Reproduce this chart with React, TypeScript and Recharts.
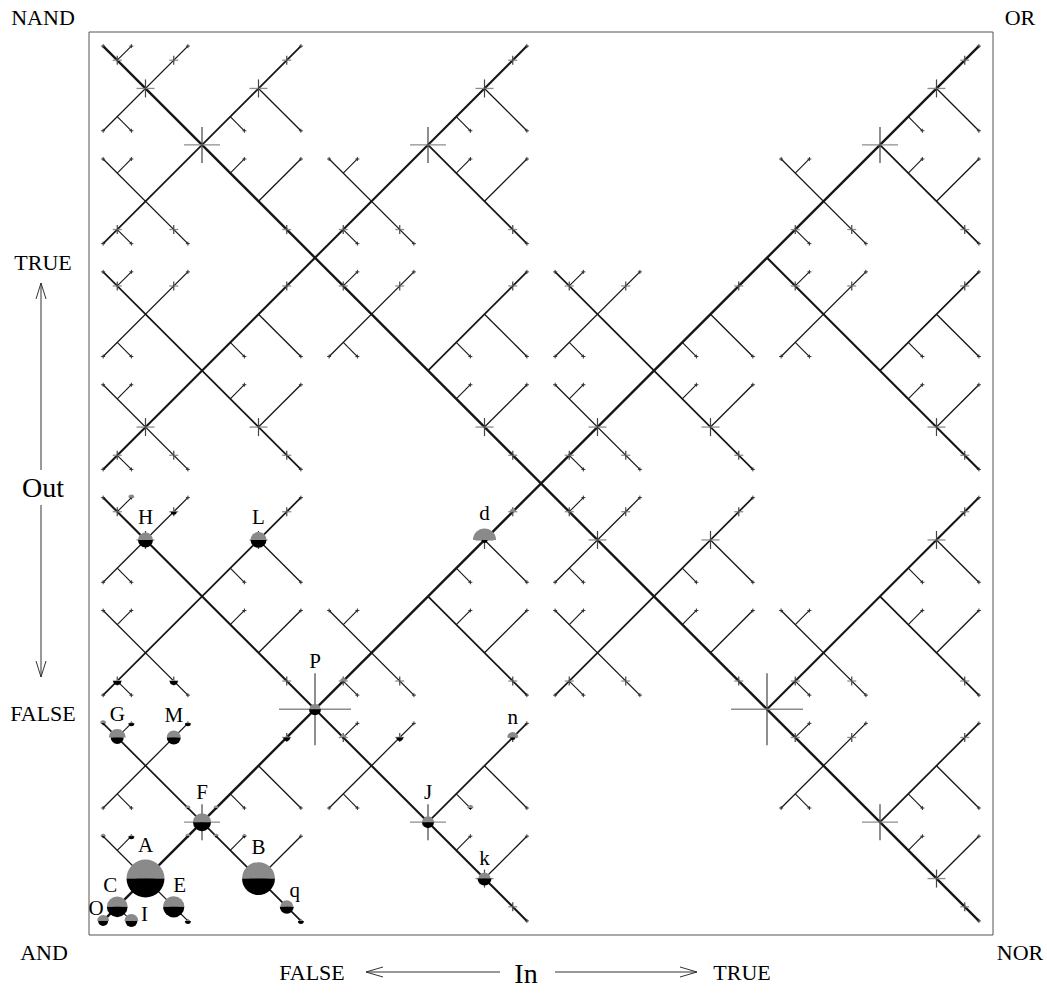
import React from 'react'
import { ComposedChart, XAxis, YAxis, ReferenceLine, ReferenceArea, Scatter } from 'recharts'

type Seg = [number, number, number, number]

// lattice: In runs 0..64 left to right, Out runs 0..64 top to bottom (row index)
const wholeDiagonals: Seg[] = [
  [1, 1, 63, 63],
  [1, 63, 63, 1],
]

const quadrantLines: Seg[] = [
  [1, 31, 31, 1],
  [48, 16, 63, 31],
  [1, 33, 31, 63],
  [48, 48, 63, 33],
]

const blockLines: Seg[] = [
  [1, 15, 15, 1], [24, 8, 31, 15], [56, 8, 63, 15],
  [1, 17, 15, 31], [24, 24, 31, 17], [33, 17, 47, 31], [56, 24, 63, 17],
  [1, 47, 15, 33], [24, 40, 31, 47], [33, 47, 47, 33], [56, 40, 63, 47],
  [1, 49, 15, 63], [24, 56, 31, 49], [56, 56, 63, 49],
]

const cellLines: Seg[] = [
  // anti-diagonals of the upper-left cells
  [1, 7, 7, 1], [1, 23, 7, 17], [17, 23, 23, 17], [33, 23, 39, 17], [49, 23, 55, 17],
  [1, 39, 7, 33], [33, 39, 39, 33], [1, 55, 7, 49], [17, 55, 23, 49], [49, 55, 55, 49],
  // half diagonals of the upper-right cells
  [12, 4, 15, 7], [28, 4, 31, 7], [60, 4, 63, 7],
  [12, 20, 15, 23], [28, 20, 31, 23], [44, 20, 47, 23], [60, 20, 63, 23],
  [12, 36, 15, 39], [28, 36, 31, 39], [44, 36, 47, 39], [60, 36, 63, 39],
  [12, 52, 15, 55], [28, 52, 31, 55], [60, 52, 63, 55],
  // diagonals of the lower-left cells
  [1, 9, 7, 15], [17, 9, 23, 15], [49, 9, 55, 15], [1, 25, 7, 31], [33, 25, 39, 31],
  [1, 41, 7, 47], [17, 41, 23, 47], [33, 41, 39, 47], [49, 41, 55, 47], [1, 57, 7, 63],
  // half anti-diagonals of the lower-right cells
  [12, 12, 15, 9], [28, 12, 31, 9], [60, 12, 63, 9],
  [12, 28, 15, 25], [28, 28, 31, 25], [44, 28, 47, 25], [60, 28, 63, 25],
  [12, 44, 15, 41], [28, 44, 31, 41], [44, 44, 47, 41], [60, 44, 63, 41],
  [12, 60, 15, 57], [28, 60, 31, 57], [60, 60, 63, 57],
]

const twigsUp: Seg[] = [
  [2, 2, 3, 1], [2, 18, 3, 17], [18, 18, 19, 17], [34, 18, 35, 17], [50, 18, 51, 17],
  [2, 34, 3, 33], [34, 34, 35, 33], [2, 50, 3, 49], [18, 50, 19, 49], [50, 50, 51, 49],
  [2, 10, 3, 9], [18, 10, 19, 9], [50, 10, 51, 9], [2, 26, 3, 25], [34, 26, 35, 25],
  [2, 42, 3, 41], [18, 42, 19, 41], [34, 42, 35, 41], [50, 42, 51, 41], [2, 58, 3, 57],
  [10, 10, 11, 9], [26, 10, 27, 9], [58, 10, 59, 9], [10, 26, 11, 25], [26, 26, 27, 25],
  [42, 26, 43, 25], [58, 26, 59, 25], [10, 42, 11, 41], [26, 42, 27, 41], [42, 42, 43, 41],
  [58, 42, 59, 41], [10, 58, 11, 57], [26, 58, 27, 57], [58, 58, 59, 57],
]

const twigsDown: Seg[] = [
  [2, 6, 3, 7], [2, 22, 3, 23], [18, 22, 19, 23], [34, 22, 35, 23], [50, 22, 51, 23],
  [2, 38, 3, 39], [34, 38, 35, 39], [2, 54, 3, 55], [18, 54, 19, 55], [50, 54, 51, 55],
  [10, 6, 11, 7], [26, 6, 27, 7], [58, 6, 59, 7], [10, 22, 11, 23], [26, 22, 27, 23],
  [42, 22, 43, 23], [58, 22, 59, 23], [10, 38, 11, 39], [26, 38, 27, 39], [42, 38, 43, 39],
  [58, 38, 59, 39], [10, 54, 11, 55], [26, 54, 27, 55], [58, 54, 59, 55],
  [2, 14, 3, 15], [18, 14, 19, 15], [50, 14, 51, 15], [2, 30, 3, 31], [34, 30, 35, 31],
  [2, 46, 3, 47], [18, 46, 19, 47], [34, 46, 35, 47], [50, 46, 51, 47], [2, 62, 3, 63],
]

// [in, out, weight] for the gray crosses
const crosses: [number, number, number][] = [
  [2, 2, 1], [6, 2, 1], [14, 2, 1], [30, 2, 1], [62, 2, 1],
  [4, 4, 2], [12, 4, 2], [28, 4, 2], [60, 4, 2],
  [8, 8, 4], [24, 8, 4], [56, 8, 4],
  [2, 14, 1], [6, 14, 1], [14, 14, 1], [18, 14, 1], [22, 14, 1], [30, 14, 1], [50, 14, 1], [54, 14, 1], [62, 14, 1],
  [2, 18, 1], [6, 18, 1], [14, 18, 1], [18, 18, 1], [22, 18, 1], [30, 18, 1], [34, 18, 1], [38, 18, 1], [46, 18, 1], [50, 18, 1], [54, 18, 1], [62, 18, 1],
  [4, 28, 2], [12, 28, 2], [28, 28, 2], [36, 28, 2], [44, 28, 2], [60, 28, 2],
  [2, 30, 1], [6, 30, 1], [14, 30, 1], [30, 30, 1], [34, 30, 1], [38, 30, 1], [46, 30, 1], [62, 30, 1],
  [2, 34, 1], [6, 34, 1], [14, 34, 1], [30, 34, 1], [34, 34, 1], [38, 34, 1], [46, 34, 1], [62, 34, 1],
  [4, 36, 2], [12, 36, 2], [28, 36, 2], [36, 36, 2], [44, 36, 2], [60, 36, 2],
  [2, 46, 1], [6, 46, 1], [14, 46, 1], [18, 46, 1], [22, 46, 1], [30, 46, 1], [34, 46, 1], [38, 46, 1], [46, 46, 1], [50, 46, 1], [54, 46, 1], [62, 46, 1],
  [16, 48, 8], [48, 48, 8],
  [2, 50, 1], [6, 50, 1], [14, 50, 1], [18, 50, 1], [22, 50, 1], [30, 50, 1], [50, 50, 1], [54, 50, 1], [62, 50, 1],
  [8, 56, 4], [24, 56, 4], [56, 56, 4],
  [4, 60, 2], [12, 60, 2], [28, 60, 2], [60, 60, 2],
  [2, 62, 1], [6, 62, 1], [14, 62, 1], [30, 62, 1], [62, 62, 1],
]

// half discs: gray (upper) and black (lower) shares
const bubbleNames = ['A', 'B', 'C', 'E', 'O', 'I', 'q', 'F', 'G', 'M', 'H', 'L', 'd', 'P', 'J', 'k', 'n']
const bubbleIn = [4, 12, 2, 6, 1, 3, 14, 8, 2, 6, 4, 12, 28, 16, 24, 28, 30]
const bubbleOut = [60, 60, 62, 62, 63, 63, 62, 56, 50, 50, 36, 36, 36, 48, 56, 60, 50]
const bubbleGray = [40, 30, 12, 12.5, 4, 5.4, 4.7, 9, 8, 5.4, 6.2, 7, 14.7, 3.4, 4, 4, 3.4]
const bubbleBlack = [40, 30, 12, 12.5, 2.8, 4, 5.4, 9, 4.7, 5.4, 6.2, 7, 1, 4, 4, 5.4, 0.7]
const bubbleSide = ['top', 'top', 'topLeft', 'topRight', 'left', 'right', 'topRight', 'top', 'top', 'top', 'top', 'top', 'top', 'top', 'top', 'top', 'top']

// small unlabeled half discs [in, out, gray, black]
const specks: [number, number, number, number][] = [
  [3, 33, 1, 0], [6, 34, 0.25, 1], [30, 34, 1, 0], [2, 46, 0.25, 1.8], [6, 46, 0.25, 1.8],
  [18, 46, 1, 0], [14, 50, 0.25, 1.3], [18, 50, 1, 0.2], [22, 50, 0.25, 1.3], [27, 55, 1, 0.2],
  [1, 49, 1, 0.2], [3, 49, 0.25, 1], [7, 49, 0.2, 1], [7, 55, 0.7, 0.2], [9, 55, 0.7, 0.2],
  [7, 57, 0.7, 0.2], [9, 57, 0.7, 0.2], [11, 57, 0.5, 0.2], [1, 57, 0.7, 0.2], [3, 57, 0.25, 1],
  [7, 63, 0.2, 1], [15, 63, 0.2, 1],
]

const allSegs = [...wholeDiagonals, ...quadrantLines, ...blockLines, ...cellLines, ...twigsUp, ...twigsDown]

const tips = (() => {
  const seen = new Set<string>()
  const out: { x: number; y: number }[] = []
  allSegs.forEach((s) => {
    ;[[s[0], s[1]], [s[2], s[3]]].forEach(([x, y]) => {
      const k = x + ',' + y
      if (x % 2 === 1 && !seen.has(k)) {
        seen.add(k)
        out.push({ x, y })
      }
    })
  })
  return out
})()

const crossData = crosses.map(([x, y, w]) => ({ x, y, w }))
const bubbleData = bubbleNames.map((name, i) => ({
  name,
  x: bubbleIn[i],
  y: bubbleOut[i],
  gray: bubbleGray[i],
  black: bubbleBlack[i],
  side: bubbleSide[i],
  w: (crosses.find((c) => c[0] === bubbleIn[i] && c[1] === bubbleOut[i]) || [0, 0, 0])[2],
}))
const speckData = specks.map(([x, y, gray, black]) => ({ x, y, gray, black }))

const serif = '"Liberation Serif", "Times New Roman", serif'

const halfDisc = (cx: number, cy: number, rt: number, rb: number) => (
  <>
    {rt > 0 && <path d={`M${cx - rt},${cy} A${rt},${rt} 0 0 1 ${cx + rt},${cy} Z`} fill="#8a8a8a" />}
    {rb > 0 && <path d={`M${cx - rb},${cy} A${rb},${rb} 0 0 0 ${cx + rb},${cy} Z`} fill="#000" />}
  </>
)

const Cross = (props: any) => {
  const { cx, cy, payload } = props
  const a = 4.5 * payload.w
  return (
    <g>
      <line x1={cx - a} y1={cy} x2={cx + a} y2={cy} stroke="#8c8c8c" strokeWidth={1.3} />
      <line x1={cx} y1={cy - a} x2={cx} y2={cy + a} stroke="#444" strokeWidth={1.2} />
    </g>
  )
}

const Tip = (props: any) => {
  const { cx, cy } = props
  return (
    <g stroke="#333" strokeWidth={1}>
      <line x1={cx - 2} y1={cy} x2={cx + 2} y2={cy} />
      <line x1={cx} y1={cy - 2} x2={cx} y2={cy + 2} />
    </g>
  )
}

const Speck = (props: any) => {
  const { cx, cy, payload } = props
  return <g>{halfDisc(cx, cy, 3 * Math.sqrt(payload.gray), 3 * Math.sqrt(payload.black))}</g>
}

const Bubble = (props: any) => {
  const { cx, cy, payload } = props
  const rt = 3 * Math.sqrt(payload.gray)
  const rb = 3 * Math.sqrt(payload.black)
  let tx = cx
  let ty = cy - Math.max(rt + 8, 4.5 * payload.w + 5)
  if (payload.side === 'topLeft') { tx = cx - 7; ty = cy - 15 }
  if (payload.side === 'topRight') { tx = cx + 6; ty = cy - 15 }
  if (payload.side === 'left') { tx = cx - 7; ty = cy - 6 }
  if (payload.side === 'right') { tx = cx + 13; ty = cy }
  if (payload.name === 'q') { tx = cx + 8; ty = cy - 10 }
  return (
    <g>
      {halfDisc(cx, cy, rt, rb)}
      <text x={tx} y={ty} textAnchor="middle" fontFamily={serif} fontSize={21} fill="#000">
        {payload.name}
      </text>
    </g>
  )
}

const segLine = (s: Seg, i: number, w: number, key: string) => (
  <ReferenceLine
    key={key + i}
    segment={[{ x: s[0], y: s[1] }, { x: s[2], y: s[3] }]}
    stroke="#161616"
    strokeWidth={w}
    ifOverflow="visible"
  />
)

const App = () => {
  return (
    <div style={{ position: 'absolute', left: 0, top: 0, width: 1047, height: 993, overflow: 'hidden' }}>
      <div style={{ position: 'absolute', left: 8, top: 8 }}>
        <ComposedChart width={1031} height={977} margin={{ top: 24, right: 46, bottom: 50, left: 81 }}>
          <XAxis type="number" dataKey="x" domain={[0, 64]} hide allowDataOverflow />
          <YAxis type="number" dataKey="y" domain={[0, 64]} reversed hide allowDataOverflow />
          <ReferenceArea x1={0} x2={64} y1={0} y2={64} fill="none" stroke="#555" strokeWidth={1} ifOverflow="visible" />
          {twigsUp.map((s, i) => segLine(s, i, 1.1, 'tu'))}
          {twigsDown.map((s, i) => segLine(s, i, 1.1, 'td'))}
          {cellLines.map((s, i) => segLine(s, i, 1.3, 'c'))}
          {blockLines.map((s, i) => segLine(s, i, 1.7, 'b'))}
          {quadrantLines.map((s, i) => segLine(s, i, 2.1, 'q'))}
          {wholeDiagonals.map((s, i) => segLine(s, i, 2.4, 'w'))}
          <Scatter data={tips} shape={<Tip />} isAnimationActive={false} />
          <Scatter data={crossData} shape={<Cross />} isAnimationActive={false} />
          <Scatter data={speckData} shape={<Speck />} isAnimationActive={false} />
          <Scatter data={bubbleData} shape={<Bubble />} isAnimationActive={false} />
        </ComposedChart>
      </div>
      <svg
        width={1047}
        height={993}
        style={{ position: 'absolute', left: 0, top: 0, pointerEvents: 'none' }}
        fontFamily={serif}
      >
        <g fontSize={22} textAnchor="middle" fill="#000">
          <text x={43} y={25}>NAND</text>
          <text x={1020} y={25}>OR</text>
          <text x={44} y={960}>AND</text>
          <text x={1020} y={960}>NOR</text>
          <text x={43} y={270}>TRUE</text>
          <text x={43} y={721}>FALSE</text>
          <text x={312} y={980}>FALSE</text>
          <text x={742} y={980}>TRUE</text>
        </g>
        <g fontSize={28} textAnchor="middle" fill="#000">
          <text x={43} y={497}>Out</text>
          <text x={526} y={983}>In</text>
        </g>
        <g stroke="#333" strokeWidth={1} fill="none">
          <line x1={41} y1={470} x2={41} y2={283} />
          <polyline points="36,299 41,283 46,299" />
          <line x1={41} y1={505} x2={41} y2={677} />
          <polyline points="36,661 41,677 46,661" />
          <line x1={366} y1={972} x2={500} y2={972} />
          <polyline points="383,967 366,972 383,977" />
          <line x1={555} y1={972} x2={697} y2={972} />
          <polyline points="680,967 697,972 680,977" />
        </g>
      </svg>
    </div>
  )
}

export default App
